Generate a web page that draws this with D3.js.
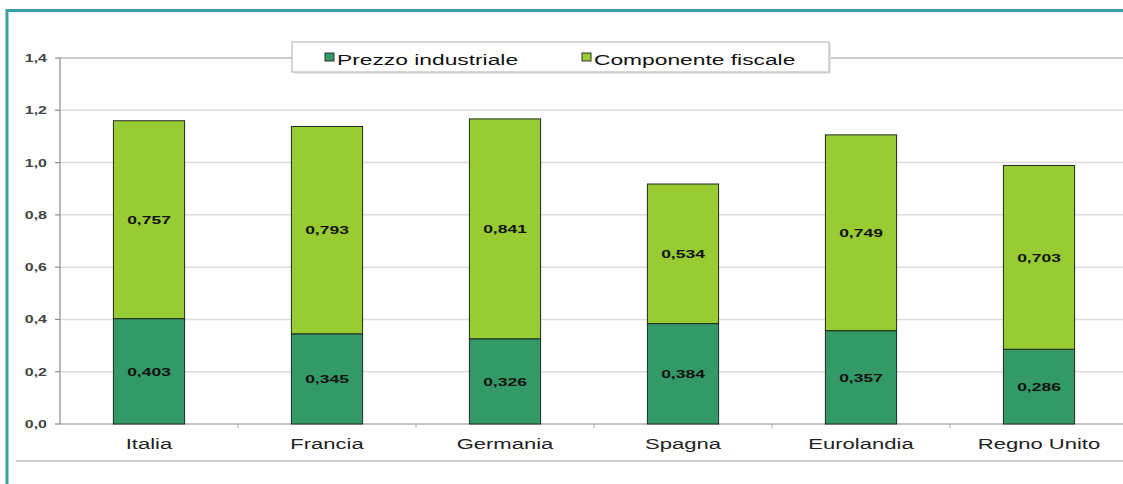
<!DOCTYPE html>
<html>
<head>
<meta charset="utf-8">
<script src="https://cdn.jsdelivr.net/npm/d3@7"></script>
<style>
  html, body { margin: 0; padding: 0; background: #fff; }
  svg { display: block; font-family: "Liberation Sans", Arial, sans-serif; }
</style>
</head>
<body>
<svg id="chart" width="1123" height="484"></svg>
<script>
// ---- data ----
const categories = ["Italia", "Francia", "Germania", "Spagna", "Eurolandia", "Regno Unito"];
const prezzoIndustriale = [0.403, 0.345, 0.326, 0.384, 0.357, 0.286];
const componenteFiscale = [0.757, 0.793, 0.841, 0.534, 0.749, 0.703];
const seriesNames = ["Prezzo industriale", "Componente fiscale"];
const yTicks = [0, 0.2, 0.4, 0.6, 0.8, 1.0, 1.2, 1.4];

const colors = ["#339966", "#99cc33"];
const SX = 1.52; // horizontal stretch of the source image text

const svg = d3.select("#chart");
const W = 1123, H = 484;

svg.append("rect").attr("width", W).attr("height", H).attr("fill", "#fff");

const fmt = v => d3.format(".1f")(v).replace(".", ",");
const fmt3 = v => d3.format(".3f")(v).replace(".", ",");

const x = d3.scaleBand().domain(categories).range([60, 1128]).paddingInner(0.6).paddingOuter(0.3);
const xb = d3.scaleBand().domain(categories).range([60, 1128]);
const y = d3.scaleLinear().domain([0, 1.4]).range([424, 58]);

function stretchedText(sel, px, py, txt) {
  return sel.append("text")
    .attr("transform", `translate(${px},${py}) scale(${SX},1)`)
    .text(txt);
}

// gridlines
svg.append("g").selectAll("line").data(yTicks.filter(d => d > 0)).join("line")
  .attr("x1", 60).attr("x2", W)
  .attr("y1", d => y(d)).attr("y2", d => y(d))
  .attr("stroke", d => d === 1.4 ? "#b8b8b8" : "#dcdcdc")
  .attr("stroke-width", 1.5);

// y axis
const yAxis = svg.append("g");
yAxis.append("line").attr("x1", 60).attr("x2", 60).attr("y1", y(1.4)).attr("y2", y(0))
  .attr("stroke", "#8a8a8a").attr("stroke-width", 1.2);
yAxis.selectAll("line.t").data(yTicks).join("line").attr("class", "t")
  .attr("x1", 55).attr("x2", 60).attr("y1", d => y(d)).attr("y2", d => y(d))
  .attr("stroke", "#8a8a8a").attr("stroke-width", 1.2);
yTicks.forEach(t => {
  stretchedText(yAxis, 47, y(t) + 4, fmt(t))
    .attr("text-anchor", "end").attr("font-size", 10.5).attr("font-weight", "bold")
    .attr("fill", "#444");
});

// x axis baseline and ticks
svg.append("line").attr("x1", 60).attr("x2", W).attr("y1", y(0)).attr("y2", y(0))
  .attr("stroke", "#8a8a8a").attr("stroke-width", 1.2);
svg.append("g").selectAll("line").data(categories.slice(1)).join("line")
  .attr("x1", d => xb(d)).attr("x2", d => xb(d))
  .attr("y1", y(0)).attr("y2", y(0) + 4)
  .attr("stroke", "#aaa").attr("stroke-width", 1);

// bars
const stackData = categories.map((c, i) => ({ c, a: prezzoIndustriale[i], b: componenteFiscale[i] }));
const bars = svg.append("g");
stackData.forEach(d => {
  bars.append("rect")
    .attr("x", x(d.c)).attr("width", x.bandwidth())
    .attr("y", y(d.a)).attr("height", y(0) - y(d.a))
    .attr("fill", colors[0]).attr("stroke", "#1f2a22").attr("stroke-width", 1);
  bars.append("rect")
    .attr("x", x(d.c)).attr("width", x.bandwidth())
    .attr("y", y(d.a + d.b)).attr("height", y(d.a) - y(d.a + d.b))
    .attr("fill", colors[1]).attr("stroke", "#1f2a22").attr("stroke-width", 1);
  const cx = x(d.c) + x.bandwidth() / 2;
  stretchedText(bars, cx, (y(0) + y(d.a)) / 2 + 4.3, fmt3(d.a))
    .attr("text-anchor", "middle").attr("font-size", 11.5).attr("font-weight", "bold").attr("fill", "#111");
  stretchedText(bars, cx, (y(d.a) + y(d.a + d.b)) / 2 + 4.3, fmt3(d.b))
    .attr("text-anchor", "middle").attr("font-size", 11.5).attr("font-weight", "bold").attr("fill", "#111");
});

// category labels
categories.forEach(c => {
  stretchedText(svg, xb(c) + xb.bandwidth() / 2, 449, c)
    .attr("text-anchor", "middle").attr("font-size", 14.5).attr("fill", "#222");
});

// separator line below
svg.append("line").attr("x1", 16).attr("x2", W).attr("y1", 461).attr("y2", 461)
  .attr("stroke", "#bdbdbd").attr("stroke-width", 1.5);

// legend
const leg = svg.append("g");
leg.append("rect").attr("x", 294).attr("y", 44).attr("width", 537).attr("height", 30)
  .attr("fill", "#e6e6e6");
leg.append("rect").attr("x", 292).attr("y", 42).attr("width", 537).attr("height", 30)
  .attr("fill", "#fff").attr("stroke", "#bcbcbc").attr("stroke-width", 1.2);
const legX = [325, 582];
seriesNames.forEach((n, i) => {
  leg.append("rect").attr("x", legX[i]).attr("y", 53).attr("width", 9).attr("height", 8)
    .attr("fill", colors[i]).attr("stroke", "#333").attr("stroke-width", 1);
  stretchedText(leg, legX[i] + 12, 65, n)
    .attr("font-size", 15).attr("fill", "#111");
});

// teal frame
svg.append("path")
  .attr("d", `M7,${H} L7,10.5 L${W},10.5`)
  .attr("fill", "none").attr("stroke", "#3e9ea6").attr("stroke-width", 3);
</script>
</body>
</html>
